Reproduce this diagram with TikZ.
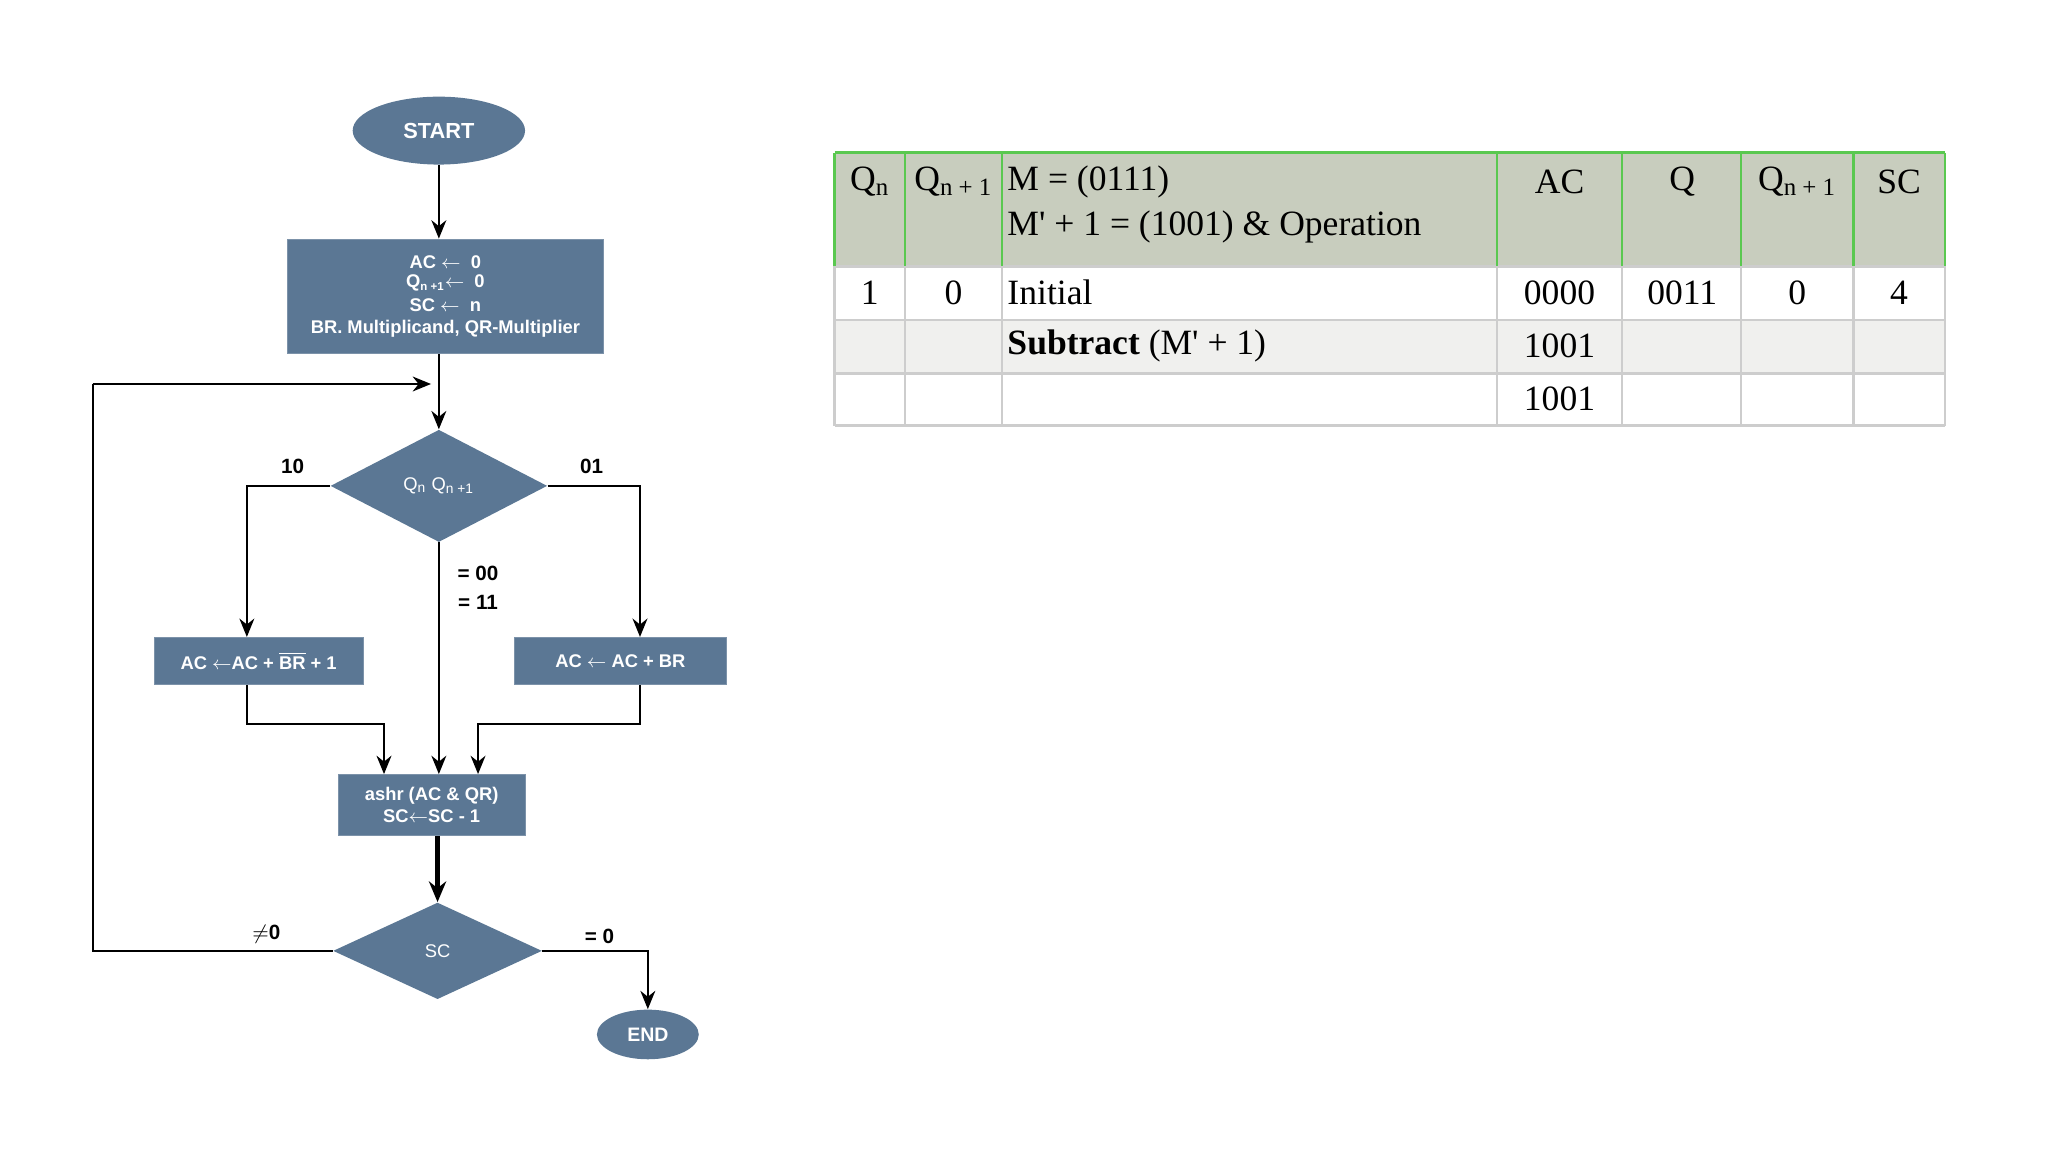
\documentclass[tikz,border=0pt]{standalone}
\usepackage{fontspec}
\setmainfont{Liberation Serif}[Ligatures=TeXOff]
\newfontfamily\fsans{Liberation Sans}
\usetikzlibrary{shapes.geometric,arrows.meta}
\definecolor{fc}{RGB}{91,119,148}
\definecolor{hd}{RGB}{200,205,190}
\definecolor{gl}{RGB}{90,200,80}
\definecolor{gr}{RGB}{205,205,205}
\definecolor{r2}{RGB}{240,240,238}
\begin{document}
\begin{tikzpicture}[x=0.02cm,y=-0.02cm,
 box/.style={fill=fc,draw=fc!80!white,text=white,font=\fsans\bfseries\fontsize{8}{9.5}\selectfont,align=center,inner sep=0pt},
 dia/.style={diamond,fill=fc,text=white,font=\fsans\fontsize{8}{9}\selectfont,inner sep=0pt},
 ter/.style={ellipse,fill=fc,text=white,font=\fsans\bfseries\fontsize{9.5}{11}\selectfont,inner sep=0pt},
 ar/.style={-{Stealth[length=8pt,width=6.5pt]},line width=0.9pt},
 ln/.style={line width=0.9pt},
 lb/.style={font=\fsans\bfseries\fontsize{9}{10}\selectfont},
 tx/.style={font=\fontsize{15.5}{18}\selectfont,inner sep=0pt}]
\useasboundingbox (0,0) rectangle (1568,882);
% flowchart
\node[ter,minimum width=2.64cm,minimum height=1.04cm] (start) at (336,100) {START};
\node[box,minimum width=4.84cm,minimum height=1.76cm] (init) at (341,227) {AC $\leftarrow$\ \ 0\\[-1pt]Q\textsubscript{\fontsize{5}{5}\selectfont n +1}$\leftarrow$\ \ 0\\[1pt]SC $\leftarrow$\ \ n\\BR. Multiplicand, QR-Multiplier};
\node[dia,minimum width=3.32cm,minimum height=1.72cm,aspect=1.93] (d1) at (336,372) {Q\textsubscript{n} Q\textsubscript{n +1}};
\node[box,minimum width=3.2cm,minimum height=0.72cm] (lb) at (198,506) {AC $\leftarrow$AC + $\overline{\mbox{BR}}$ + 1};
\node[box,minimum width=3.24cm,minimum height=0.72cm] (rb) at (475,506) {AC $\leftarrow$ AC + BR};
\node[box,minimum width=2.86cm,minimum height=0.94cm] (sh) at (330.5,616.5) {ashr (AC \& QR)\\SC$\leftarrow$SC - 1};
\node[dia,minimum width=3.2cm,minimum height=1.48cm,aspect=2.16] (d2) at (335,728) {SC};
\node[ter,minimum width=1.56cm,minimum height=0.76cm,font=\fsans\bfseries\fontsize{8.5}{10}\selectfont] (end) at (496,792) {END};
\draw[ar] (start) -- (init.north -| start);
\draw[ar] (init.south -| start) -- (d1.north);
\draw[ln] (d2.west) -| (71,294) coordinate (c1);
\coordinate (c2) at (330,294);
\draw[ar] (c1) -- (c2);
\draw[ar] (d1.west) -| (lb.north -| 189,0);
\draw[ar] (d1.east) -| (rb.north -| 490,0);
\draw[ar] (d1.south) -- (sh.north -| 336,0);
\draw[ar] (lb.south -| 189,0) |- (294,554) -- (sh.north -| 294,0);
\draw[ar] (rb.south -| 490,0) |- (366,554) -- (sh.north -| 366,0);
\draw[-{Stealth[length=9pt,width=7.5pt]},line width=1.8pt] (sh.south -| 335,0) -- (d2.north);
\draw[ar] (d2.east) -| (end.north);
\node[lb] at (224,357) {10};
\node[lb] at (453,357) {01};
\node[lb] at (366,439) {= 00};
\node[lb] at (366,461) {= 11};
\node[lb] at (204,715) {$\neq$0};
\node[lb] at (459,717) {= 0};
% table
\fill[hd] (639,117) rectangle (1489,204);
\fill[r2] (639,245) rectangle (1489,286);
\foreach \y in {204,245,286,326} \draw[gr,line width=1.2pt] (639,\y) -- (1489,\y);
\foreach \x in {639,693,767,1146,1242,1333,1419,1489} {\draw[gr,line width=1pt] (\x,204) -- (\x,326); \draw[gl,line width=1pt] (\x,117) -- (\x,204);}
\draw[gl,line width=1.2pt] (639,117) -- (1489,117);
\node[tx] at (666,139) {Q\textsubscript{n}};
\node[tx] at (730,139) {Q\textsubscript{n + 1}};
\node[tx,anchor=west] at (771,139) {M = (0111)};
\node[tx,anchor=west] at (771,174) {M' + 1 = (1001) \& Operation};
\node[tx] at (1194,139) {AC};
\node[tx] at (1288,139) {Q};
\node[tx] at (1376,139) {Q\textsubscript{n + 1}};
\node[tx] at (1454,139) {SC};
\node[tx] at (666,224) {1};
\node[tx] at (730,224) {0};
\node[tx,anchor=west] at (771,224) {Initial};
\node[tx] at (1194,224) {0000};
\node[tx] at (1288,224) {0011};
\node[tx] at (1376,224) {0};
\node[tx] at (1454,224) {4};
\node[tx,anchor=west] at (771,265) {\textbf{Subtract} (M' + 1)};
\node[tx] at (1194,265) {1001};
\node[tx] at (1194,305) {1001};
\end{tikzpicture}
\end{document}
